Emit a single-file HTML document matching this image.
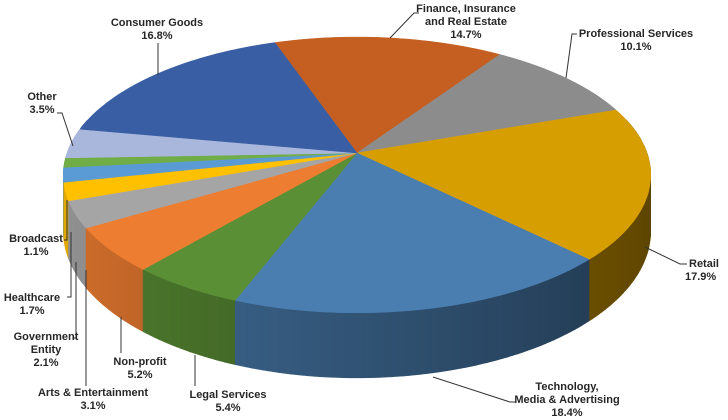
<!DOCTYPE html>
<html><head><meta charset="utf-8">
<style>
html,body{margin:0;padding:0;background:#fff;}
svg{display:block;}
text{font-family:"Liberation Sans",Arial,sans-serif;font-weight:bold;font-size:11px;fill:#262626;}
</style></head>
<body>
<svg id="chart" width="728" height="420" viewBox="0 0 728 420" xmlns="http://www.w3.org/2000/svg">
<g id="sides"></g>
<g id="tops"></g>
<g id="labels"></g>
</svg>
<script>
const categories = ["Finance, Insurance|and Real Estate","Professional Services","Retail","Technology,|Media & Advertising","Legal Services","Non-profit","Arts & Entertainment","Government|Entity","Healthcare","Broadcast","Other","Consumer Goods"];
const values = [14.7,10.1,17.9,18.4,5.4,5.2,3.1,2.1,1.7,1.1,3.5,16.8];
const colors = ["#c55f21","#8c8c8c","#d69e00","#4a7eb0","#5b8f35","#ed7d31","#a5a5a5","#ffc000","#5b9bd5","#70ad47","#a9b7dc","#3a5ea4"];
const sliceNames = ["finance","professional-services","retail","technology","legal-services","non-profit","arts-entertainment","government","healthcare","broadcast","other","consumer-goods"];

// layout (not data): label anchor, alignment, leader polyline
const labelLayout = [
 {x:466,y:12,a:"middle",line:[[390,38],[414,13],[419,13]]},
 {x:636,y:37,a:"middle",line:[[566,78],[572,34],[577,34]]},
 {x:689,y:267,a:"start",line:[[645,247],[680,264],[687,264]]},
 {x:567,y:390,a:"middle",line:[[433,377],[510,402],[515,402]]},
 {x:228,y:398,a:"middle",line:[[195,355],[195,386]]},
 {x:140,y:365,a:"middle",line:[[121,317],[121,353]]},
 {x:93,y:396,a:"middle",line:[[86,270],[86,386]]},
 {x:46,y:340,a:"middle",line:[[76,262],[76,338],[74,338]]},
 {x:32,y:301,a:"middle",line:[[71,232],[71,297],[67,297]]},
 {x:36,y:242,a:"middle",line:[[67,200],[67,240],[64,240]]},
 {x:42,y:100,a:"middle",line:[[73,146],[62,113],[57,113]]},
 {x:157,y:26,a:"middle",line:[[158,75],[158,43]]}
];

const cx=357, cy=153, d=6.28, G=844, F=1821, D=343, start=-19;
function proj(deg, bottom){
  const t=deg*Math.PI/180, X=Math.sin(t), Z=Math.cos(t), w=d+Z;
  return [cx+F*X/w, cy-G*Z/w+(bottom?D/w:0), X, Z];
}
function shade(hex,f){
  const n=parseInt(hex.slice(1),16);
  const r=Math.round(((n>>16)&255)*f),g=Math.round(((n>>8)&255)*f),b=Math.round((n&255)*f);
  return `rgb(${r},${g},${b})`;
}
const NS="http://www.w3.org/2000/svg";
const total=values.reduce((a,b)=>a+b,0);
const sidesG=document.getElementById('sides'), topsG=document.getElementById('tops'), labG=document.getElementById('labels');
let acc=start;
const segs=[];
values.forEach((v,i)=>{
  const a0=acc, a1=acc+v/total*360; acc=a1;
  const n=Math.max(2,Math.ceil((a1-a0)/1));
  let pts=[[cx,cy]];
  for(let k=0;k<=n;k++){
    const a=a0+(a1-a0)*k/n; const p=proj(a,false); pts.push([p[0],p[1]]);
    if(k<n){
      const b=a0+(a1-a0)*(k+1)/n;
      const p1=proj(a,false),p2=proj(b,false),q2=proj(b,true),q1=proj(a,true);
      const Z=(p1[3]+p2[3])/2, X=(p1[2]+p2[2])/2;
      if(Z<0.25) segs.push({i,Z,X,pts:[p1,p2,q2,q1]});
    }
  }
  const poly=document.createElementNS(NS,'polygon');
  poly.setAttribute('points',pts.map(p=>p[0].toFixed(1)+','+p[1].toFixed(1)).join(' '));
  poly.setAttribute('fill',colors[i]);
  poly.setAttribute('stroke',colors[i]);
  poly.setAttribute('stroke-width','0.5');
  
  
  topsG.appendChild(poly);
});
segs.sort((a,b)=>b.Z-a.Z);
segs.forEach(s=>{
  const f=0.66-0.23*s.X;
  const c=shade(colors[s.i],f);
  const poly=document.createElementNS(NS,'polygon');
  poly.setAttribute('points',s.pts.map(p=>p[0].toFixed(1)+','+p[1].toFixed(1)).join(' '));
  poly.setAttribute('fill',c);
  poly.setAttribute('stroke',c);
  poly.setAttribute('stroke-width','0.6');
  
  
  sidesG.appendChild(poly);
});
labelLayout.forEach((L,i)=>{
  const pl=document.createElementNS(NS,'polyline');
  pl.setAttribute('points',L.line.map(p=>p.join(',')).join(' '));
  pl.setAttribute('fill','none');
  pl.setAttribute('stroke','#333');
  pl.setAttribute('stroke-width','1');
  
  
  labG.appendChild(pl);
  const lines=categories[i].split('|').concat([values[i].toFixed(1)+'%']);
  const t=document.createElementNS(NS,'text');
  t.setAttribute('text-anchor',L.a);
  
  
  lines.forEach((ln,k)=>{
    const ts=document.createElementNS(NS,'tspan');
    ts.setAttribute('x',L.a==='start'&&k===lines.length-1?L.x-4:L.x);
    ts.setAttribute('y',L.y+k*13);
    ts.textContent=ln;
    t.appendChild(ts);
  });
  labG.appendChild(t);
});
</script>
</body></html>
